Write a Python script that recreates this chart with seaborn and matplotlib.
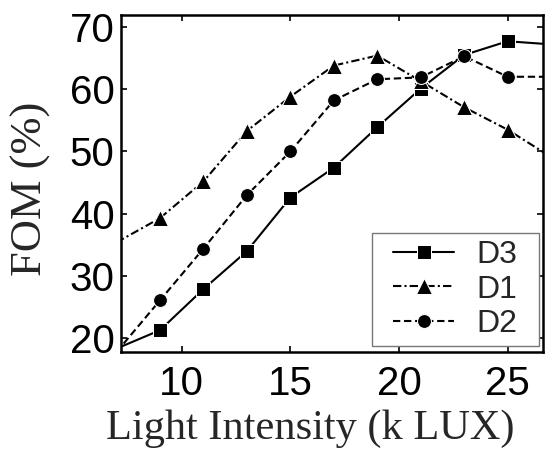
import matplotlib
matplotlib.use("Agg")
from matplotlib import pyplot as plt
from matplotlib.patches import Rectangle
import seaborn as sns
import pandas as pd
import numpy as np

# light intensity (k LUX); first/last points only carry the line to the frame
light = [7, 9, 11, 13, 15, 17, 19, 21, 23, 25, 27]
d3 = [18.35, 21.3, 27.9, 34.0, 42.6, 47.4, 53.9, 60.1, 65.5, 67.7, 67.2]
d1 = [35.4, 39.3, 45.2, 53.3, 58.8, 63.8, 65.4, 61.3, 57.1, 53.5, 49.1]
d2 = [17.8, 26.1, 34.4, 43.0, 50.0, 58.2, 61.6, 61.9, 65.3, 62.0, 62.0]

sns.set_style("ticks")
plt.rcParams['font.family'] = ['Liberation Sans', 'DejaVu Sans']

fig = plt.figure(figsize=(5.52, 4.51), dpi=100)
ax = fig.add_axes([0.219, 0.2195, 0.7656, 0.747])

df = pd.DataFrame({"x": light, "D3": d3, "D1": d1, "D2": d2})
common = dict(color="black", lw=1.5, markevery=slice(1, -1), ax=ax)
sns.lineplot(data=df, x="x", y="D3", marker="s", markersize=9.5, label="D3", **common)
sns.lineplot(data=df, x="x", y="D1", marker="^", markersize=11, label="D1", **common)
sns.lineplot(data=df, x="x", y="D2", marker="o", markersize=10, label="D2", **common)
ax.lines[1].set_dashes([4, 1.5, 1, 1.5])
ax.lines[2].set_dashes([3.5, 1.8])

ax.set_xlim(7.2, 26.65)
ax.set_ylim(17.8, 71.9)
ax.set_xticks([10, 15, 20, 25])
ax.set_yticks([20, 30, 40, 50, 60, 70])
ax.tick_params(direction="in", length=4, width=1.2, labelsize=29,
               top=True, right=True, colors="black")
ax.tick_params(axis="x", pad=9)
ax.tick_params(axis="y", pad=4.5)
for s in ax.spines.values():
    s.set_linewidth(1.8)
    s.set_color("black")

ax.set_xlabel("Light Intensity (k LUX)", fontsize=30.5, family="Liberation Serif")
ax.set_ylabel("FOM (%)", fontsize=32, family="Liberation Serif")
ax.xaxis.set_label_coords(0.448, -0.172)
ax.yaxis.set_label_coords(-0.165, 0.484)

# legend box (MATLAB-style, roomy left/right margins)
box = Rectangle((0.594, 0.018), 0.395, 0.335, transform=ax.transAxes,
                facecolor="white", edgecolor="#777777", lw=1.0, zorder=4)
ax.add_patch(box)
leg = ax.legend(loc="center", bbox_to_anchor=(0.7915, 0.1855), fontsize=23,
                frameon=False, handlelength=1.9, handletextpad=0.7,
                borderpad=0.1, labelspacing=0.15)
leg.set_zorder(5)

fig.savefig("out.png", dpi=100)
